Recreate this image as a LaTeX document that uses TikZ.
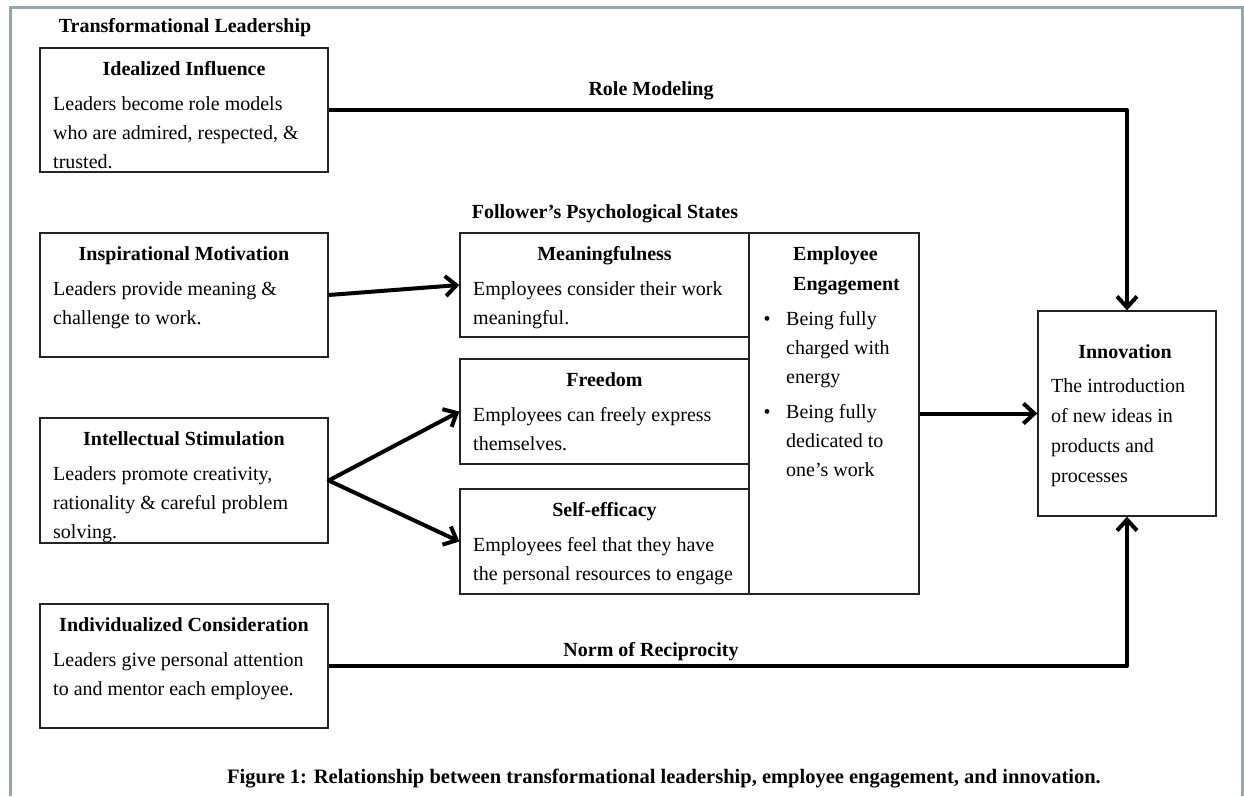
\documentclass[tikz,border=0pt]{standalone}
\usepackage{fontspec}
\setmainfont{Liberation Serif}
\usetikzlibrary{arrows.meta}
\definecolor{framecol}{RGB}{143,167,170}
\definecolor{boxline}{RGB}{35,35,35}
\newcommand\bodyfont{\fontsize{20}{29}\selectfont}
\newcommand\widefont{\fontsize{20}{30}\selectfont}
\newcommand\headfont{\fontsize{20}{29}\selectfont\bfseries}
\newcommand\capfont{\fontsize{20.5}{24}\selectfont\bfseries}

\begin{document}
\begin{tikzpicture}[x=1pt,y=-1pt,
  panel/.style={draw=boxline, line width=1.3pt, inner sep=0pt, fill=white},
  head/.style={font=\headfont, anchor=base, inner sep=0pt},
  body/.style={font=\bodyfont, align=left, anchor=north west, inner sep=0pt},
  wbody/.style={font=\widefont, align=left, anchor=north west, inner sep=0pt},
  conn/.style={line width=4pt, line join=round,
    -{Straight Barb[length=11pt,width=20pt]}},
  flow/.style={line width=4pt, line join=round,
    {Straight Barb[length=11pt,width=20pt]}-{Straight Barb[length=11pt,width=20pt]}}]

% page and outer frame
\fill[white] (0,0) rectangle (1244,796);
\useasboundingbox (0,0) rectangle (1244,796);
\draw[framecol, line width=3pt] (10,796) -- (10,7) -- (1242.5,7) -- (1242.5,796);

% group titles
\node[head] (tl) at (185,32) {Transformational Leadership};
\node[head] (fps) at (605,218) {Follower’s Psychological States};

% leadership dimensions
\node[panel, minimum width=288pt, minimum height=124pt] (ii) at (184,110) {};
\node[panel, minimum width=288pt, minimum height=124pt] (im) at (184,295) {};
\node[panel, minimum width=288pt, minimum height=125pt] (is) at (184,480.5) {};
\node[panel, minimum width=288pt, minimum height=124pt] (ic) at (184,666) {};

\node[head] (iih) at (184,75) {Idealized Influence};
\node[body] (iib) at (53,89.7) {\strut Leaders become role models\\\strut who are admired, respected, \&\\\strut trusted.};
\node[head] (imh) at (184,260) {Inspirational Motivation};
\node[body] (imb) at (53,274.7) {\strut Leaders provide meaning \&\\\strut challenge to work.};
\node[head] (ish) at (184,445) {Intellectual Stimulation};
\node[body] (isb) at (53,459.7) {\strut Leaders promote creativity,\\\strut rationality \& careful problem\\\strut solving.};
\node[head] (ich) at (184,631) {Individualized Consideration};
\node[body] (icb) at (53,645.7) {\strut Leaders give personal attention\\\strut to and mentor each employee.};

% psychological states
\node[panel, minimum width=289pt, minimum height=104pt] (mf) at (604.5,285) {};
\node[panel, minimum width=289pt, minimum height=105pt] (fr) at (604.5,411.5) {};
\node[panel, minimum width=289pt, minimum height=105pt] (se) at (604.5,541.5) {};
\node[panel, minimum width=170pt, minimum height=361pt] (ee) at (834,413.5) {};

\node[head] (mfh) at (604.5,260) {Meaningfulness};
\node[body] (mfb) at (473,274.7) {\strut Employees consider their work\\\strut meaningful.};
\node[head] (frh) at (604.5,386) {Freedom};
\node[body] (frb) at (473,400.7) {\strut Employees can freely express\\\strut themselves.};
\node[head] (seh) at (604.5,516) {Self-efficacy};
\node[body] (seb) at (473,530.7) {\strut Employees feel that they have\\\strut the personal resources to engage};

% engagement
\node[wbody, font=\widefont\bfseries] (eeh) at (793,239) {\strut Employee\\\strut Engagement};
\node[body] (ee1) at (786,304.7) {\strut\llap{\textbullet\hspace{15.5pt}}Being fully\\\strut charged with\\\strut energy};
\node[body] (ee2) at (786,397.7) {\strut\llap{\textbullet\hspace{15.5pt}}Being fully\\\strut dedicated to\\\strut one’s work};

% outcome
\node[panel, minimum width=178pt, minimum height=205pt] (inn) at (1127,413.5) {};
\node[head] (innh) at (1125,358) {Innovation};
\node[wbody] (innb) at (1051,371) {\strut The introduction\\\strut of new ideas in\\\strut products and\\\strut processes};

% connectors
\draw[conn] (ii.east) -| (inn.north);
\draw[conn] (ic.east) -| (inn.south);
\draw[conn] (im.east) -- (mf.west);
\draw[flow] (fr.west) -- (is.east) -- (se.west);
\draw[conn] (ee.east) -- (inn.west);

\node[head] (rm) at (651,95) {Role Modeling};
\node[head] (nr) at (651,656) {Norm of Reciprocity};

% caption
\node[anchor=base, inner sep=0pt, font=\capfont] (cap) at (664,783)
  {Figure 1: Relationship between transformational leadership, employee engagement, and innovation.};
\end{tikzpicture}
\end{document}
